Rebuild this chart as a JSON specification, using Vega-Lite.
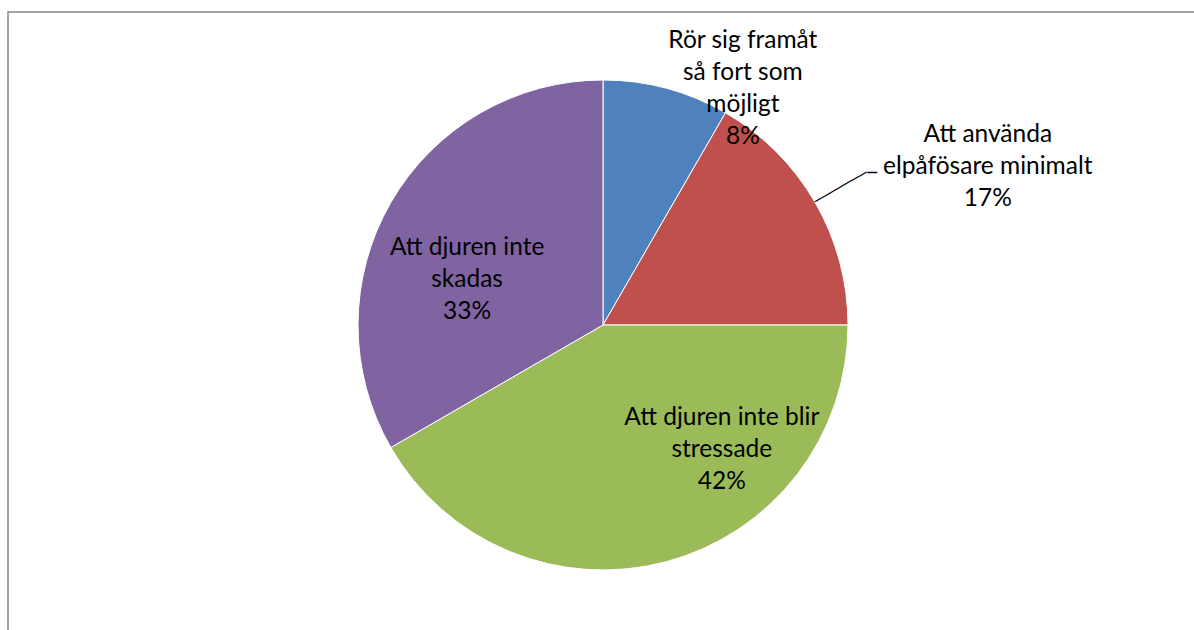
{
  "$schema": "https://vega.github.io/schema/vega-lite/v6.json",
  "width": 1190,
  "height": 626,
  "autosize": {"type": "none"},
  "padding": {"left": 8, "top": 12, "right": -4, "bottom": -8},
  "background": "white",
  "config": {"view": {"stroke": null}},
  "layer": [
    {
      "data": {"values": [{"frame": "chart area"}]},
      "mark": {"type": "rect", "fill": "white", "fillOpacity": 0, "stroke": "#868686", "strokeWidth": 1.5}
    },
    {
      "data": {"name": "slices"},
      "encoding": {
        "theta": {"field": "count", "type": "quantitative", "stack": true},
        "order": {"field": "order", "type": "quantitative"}
      },
      "layer": [
        {
          "mark": {"type": "arc", "outerRadius": 245, "stroke": "white", "strokeWidth": 1},
          "encoding": {
            "color": {
              "field": "cat",
              "type": "nominal",
              "scale": {
                "domain": ["Rör sig framåt så fort som möjligt", "Att använda elpåfösare minimalt", "Att djuren inte blir stressade", "Att djuren inte skadas"],
                "range": ["#4F81BD", "#C0504D", "#9BBB59", "#8064A2"]
              },
              "legend": null
            }
          }
        },
        {
          "mark": {"type": "text", "radius": 270, "dx": 70, "dy": -16, "align": "center", "baseline": "alphabetic", "lineBreak": "\n", "font": "Lato", "fontSize": 24.5, "lineHeight": 32, "color": "#000000"},
          "encoding": {"text": {"condition": {"test": "datum.order === 1", "field": "label"}, "value": ""}}
        },
        {
          "mark": {"type": "text", "radius": 300, "dx": 125, "dy": -33, "align": "center", "baseline": "alphabetic", "lineBreak": "\n", "font": "Lato", "fontSize": 24.5, "lineHeight": 32, "color": "#000000"},
          "encoding": {"text": {"condition": {"test": "datum.order === 2", "field": "label"}, "value": ""}}
        },
        {
          "mark": {"type": "text", "radius": 150, "dx": 80, "dy": -45, "align": "center", "baseline": "alphabetic", "lineBreak": "\n", "font": "Lato", "fontSize": 24.5, "lineHeight": 32, "color": "#000000"},
          "encoding": {"text": {"condition": {"test": "datum.order === 3", "field": "label"}, "value": ""}}
        },
        {
          "mark": {"type": "text", "radius": 150, "dx": -6, "dy": 5, "align": "center", "baseline": "alphabetic", "lineBreak": "\n", "font": "Lato", "fontSize": 24.5, "lineHeight": 32, "color": "#000000"},
          "encoding": {"text": {"condition": {"test": "datum.order === 4", "field": "label"}, "value": ""}}
        },
        {
          "mark": {"type": "text", "radius": 275, "angle": -30, "align": "center", "baseline": "middle", "font": "DejaVu Sans", "fontSize": 14, "color": "#000000"},
          "encoding": {"text": {"condition": {"test": "datum.order === 2", "value": "───────"}, "value": ""}}
        },
        {
          "mark": {"type": "text", "radius": 305, "align": "left", "baseline": "middle", "font": "DejaVu Sans", "fontSize": 16, "color": "#000000"},
          "encoding": {"text": {"condition": {"test": "datum.order === 2", "value": "─"}, "value": ""}}
        }
      ]
    }
  ],
  "datasets": {
    "slices": [
      {"cat": "Rör sig framåt så fort som möjligt", "count": 1, "order": 1, "label": "Rör sig framåt\nså fort som\nmöjligt\n8%"},
      {"cat": "Att använda elpåfösare minimalt", "count": 2, "order": 2, "label": "Att använda\nelpåfösare minimalt\n17%"},
      {"cat": "Att djuren inte blir stressade", "count": 5, "order": 3, "label": "Att djuren inte blir\nstressade\n42%"},
      {"cat": "Att djuren inte skadas", "count": 4, "order": 4, "label": "Att djuren inte\nskadas\n33%"}
    ]
  }
}
